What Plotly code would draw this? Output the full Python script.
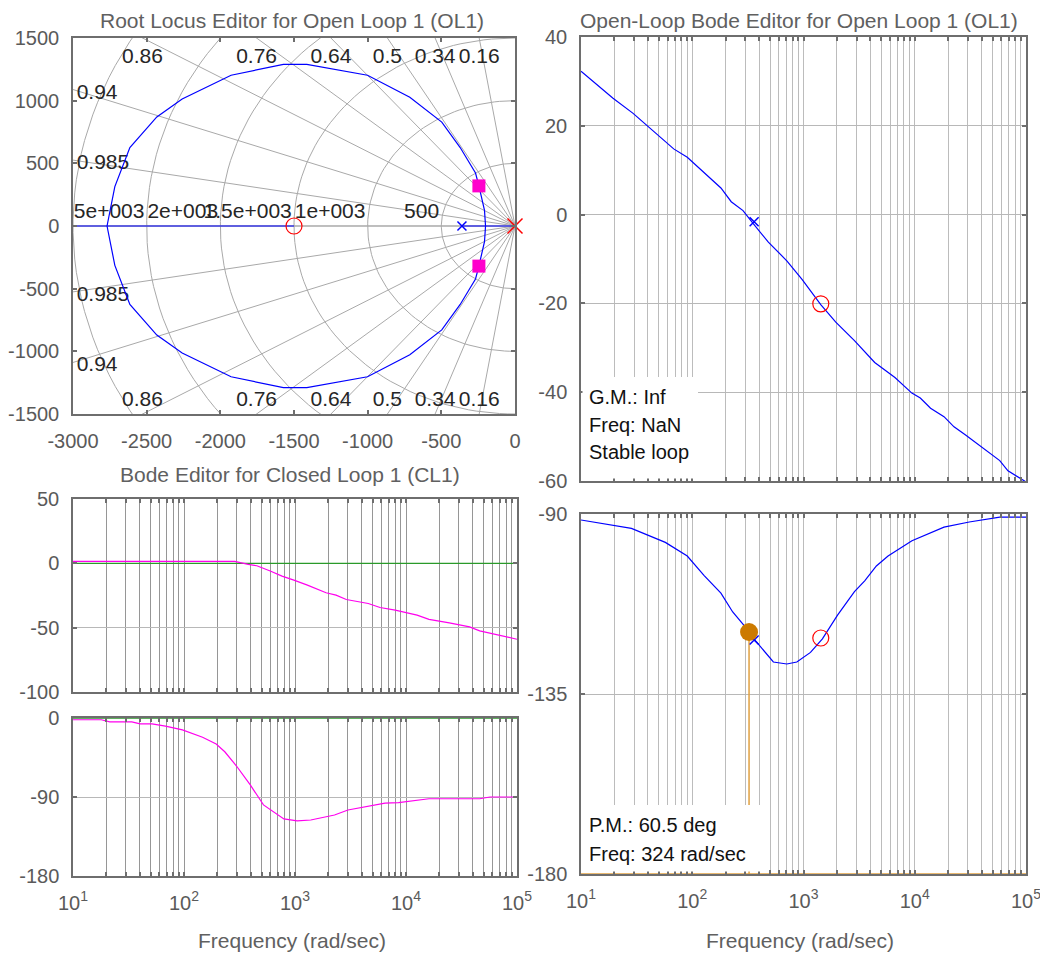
import numpy as np
import plotly.graph_objects as go

# the page body adds an 8 px margin, so the figure is 8 px smaller and all pixel
# positions below are given in window pixels and shifted by OFF
OFF = 8
W, H = 1048 - OFF, 954 - OFF
FONT = "Liberation Sans, Arial, sans-serif"

# ---------------- data ----------------
rl_upper_x = [-200, -207, -245, -268, -372, -497, -714, -1001, -1413, -1572, -1927, -2259, -2431, -2614, -2716, -2769]
rl_upper_y = [0, 124, 320, 423, 626, 829, 1027, 1203, 1290, 1290, 1203, 1014, 870, 626, 314, 0]
rl_lower_x = [-200, -207, -245, -268, -372, -497, -714, -1001, -1413, -1572, -1927, -2259, -2431, -2614, -2716, -2769]
rl_lower_y = [0, -124, -320, -423, -626, -829, -1027, -1203, -1290, -1290, -1203, -1014, -870, -626, -314, 0]
rl_real_seg1 = [-3000, -1500]
rl_real_seg2 = [-360, 0]
cl_poles_x = [-245, -245]
cl_poles_y = [320, -320]
comp_zero = [-1500]
comp_pole = [0]
plant_pole = [-360]
zeta_vals = [0.16, 0.34, 0.5, 0.64, 0.76, 0.86, 0.94, 0.985]
zeta_text = ["0.16", "0.34", "0.5", "0.64", "0.76", "0.86", "0.94", "0.985"]
wn_vals = [500, 1000, 1500, 2000, 2500, 3000]
wn_text = ["500", "1e+003", "1.5e+003", "2e+003", "2.5e+003", "3e+003"]

# Open-loop Bode magnitude
ol_mag_f = [10, 19.4, 29.4, 59.3, 68.1, 90.2, 181, 224, 286, 352, 483, 708, 970, 1429, 1950, 2871,
            4365, 6637, 9419, 11220, 13870, 18320, 22540, 28840, 45500, 58080, 68870, 100000]
ol_mag_db = [32.3, 26.2, 22.8, 16.3, 14.8, 12.9, 6.0, 2.9, 0.9, -2.0, -6.2, -10.4, -14.6, -20.3, -24.2, -28.4,
             -33.3, -36.7, -40.2, -41.3, -43.6, -45.5, -47.8, -49.7, -53.5, -55.4, -57.7, -60.2]
# Open-loop Bode phase
ol_ph_f = [10, 28.4, 57.3, 90.2, 128, 181, 231, 310, 378, 536, 708, 871, 1156, 1479, 2023, 2871,
           3548, 4519, 5754, 9441, 18320, 30900, 58080, 100000]
ol_ph_deg = [-91.5, -93.6, -97.1, -100.5, -105.4, -109.8, -114.5, -118.7, -122, -127, -127.5, -127, -124.6,
             -121.2, -115.3, -109.4, -106.7, -103, -100.5, -96.7, -93.3, -92, -90.8, -90.8]
pm_freq = 324
pm_deg = 60.5
plant_pole_mag = -1.6
plant_pole_ph = -121.5
comp_zero_freq = 1430
comp_zero_mag = -20.1
comp_zero_ph = -121.0

# Closed-loop Bode magnitude
cl_mag_f = [10, 287, 379, 453, 598, 764, 977, 1294, 1905, 2344, 2897, 3837, 4571, 5834, 7998, 12590,
            16110, 24550, 37410, 46130, 65460, 100000]
cl_mag_db = [1.5, 1.5, -0.8, -1.9, -6.0, -9.9, -13.1, -16.9, -22.9, -24.7, -28.1, -29.9, -31.2, -34.3, -36.4,
             -40.3, -43.5, -46.3, -49.4, -52.5, -55.4, -59.0]
# Closed-loop Bode phase
cl_ph_f = [10, 18, 21.4, 33.9, 40.3, 51.5, 68.1, 96.8, 147, 195, 233, 297, 394, 520, 794, 1047, 1387,
           2270, 3000, 3981, 6471, 8570, 12190, 16110, 46130, 57020, 100000]
cl_ph_deg = [-2, -2, -4.5, -4.5, -6.6, -6.6, -9.2, -13.5, -22, -29.7, -38.5, -54.7, -75.9, -99, -115, -117.3,
             -116.2, -110.5, -104.8, -102, -97, -96.3, -94, -92, -92, -90, -90]

# tick labels
rl_xticks = [-3000, -2500, -2000, -1500, -1000, -500, 0]
rl_yticks = [1500, 1000, 500, 0, -500, -1000, -1500]
ol_mag_ticks = [40, 20, 0, -20, -40, -60]
ol_ph_ticks = [-90, -135, -180]
cl_mag_ticks = [50, 0, -50, -100]
cl_ph_ticks = [0, -90, -180]
decades = [1, 2, 3, 4, 5]

# ---------------- helpers ----------------
def fx(p):
    return (p - OFF) / W

def fy(p):
    return 1 - (p - OFF) / H

freq_ticks = [k * 10 ** d for d in decades[:-1] for k in range(1, 10)] + [10 ** decades[-1]]
freq_text = [("10<sup>%d</sup>" % int(round(np.log10(v)))) if abs(np.log10(v) - round(np.log10(v))) < 1e-9 else "" for v in freq_ticks]

def num_txt(vals):
    return [str(v) for v in vals]

fig = go.Figure()

# ---- Root locus grid (sgrid) ----
ax, ay = [], []
for wn in wn_vals:
    th = np.linspace(np.pi / 2, 3 * np.pi / 2, 90)
    ax += list(wn * np.cos(th)) + [None]
    ay += list(wn * np.sin(th)) + [None]
fig.add_trace(go.Scatter(x=ax, y=ay, mode="lines", line=dict(color="#a9a9a9", width=1),
                         hoverinfo="skip", xaxis="x", yaxis="y"))
rx, ry = [], []
R = 6000
for z in zeta_vals + [1.0]:
    th = np.arccos(z)
    rx += [0, -R * np.cos(th), None, 0, -R * np.cos(th), None]
    ry += [0, R * np.sin(th), None, 0, -R * np.sin(th), None]
fig.add_trace(go.Scatter(x=rx, y=ry, mode="lines", line=dict(color="#a9a9a9", width=1),
                         hoverinfo="skip", xaxis="x", yaxis="y"))

LBL = dict(size=21, color="#262626", family=FONT)
zl_x, zl_y, zl_t, zl_pos = [], [], [], []
for z, t in zip(zeta_vals, zeta_text):
    th = np.arccos(z)
    yhit = 3000 * np.tan(th)
    if yhit > 1500:
        xh = -1500 / np.tan(th)
        zl_x += [xh, xh]
        zl_y += [1345, -1395]
        zl_pos += ["middle center", "middle center"]
    else:
        zl_x += [-2975, -2975]
        zl_y += [yhit - 30, -yhit - 30]
        zl_pos += ["middle right", "middle right"]
    zl_t += [t, t]
fig.add_trace(go.Scatter(x=zl_x, y=zl_y, mode="text", text=zl_t, textposition=zl_pos, textfont=LBL,
                         cliponaxis=False, hoverinfo="skip", xaxis="x", yaxis="y"))
fig.add_trace(go.Scatter(x=[-w - 15 for w in wn_vals], y=[105] * len(wn_vals), mode="text", text=wn_text,
                         textposition="middle left", textfont=LBL,
                         cliponaxis=True, hoverinfo="skip", xaxis="x", yaxis="y"))

# locus
blue = "#0000ff"
for xs, ys in [(rl_upper_x, rl_upper_y), (rl_lower_x, rl_lower_y), (rl_real_seg1, [0, 0]), (rl_real_seg2, [0, 0])]:
    fig.add_trace(go.Scatter(x=xs, y=ys, mode="lines", line=dict(color=blue, width=1.2),
                             hoverinfo="skip", xaxis="x", yaxis="y"))
fig.add_trace(go.Scatter(x=cl_poles_x, y=cl_poles_y, mode="markers",
                         marker=dict(symbol="square", size=13, color="#ff00cc"), xaxis="x", yaxis="y"))
fig.add_trace(go.Scatter(x=comp_zero, y=[0], mode="markers", cliponaxis=False,
                         marker=dict(symbol="circle-open", size=16, color="red", line=dict(width=1.2)),
                         xaxis="x", yaxis="y"))
fig.add_trace(go.Scatter(x=comp_pole, y=[0], mode="markers", cliponaxis=False,
                         marker=dict(symbol="x-thin-open", size=15, color="red", line=dict(width=1.5, color="red")),
                         xaxis="x", yaxis="y"))
fig.add_trace(go.Scatter(x=plant_pole, y=[0], mode="markers",
                         marker=dict(symbol="x-thin-open", size=9, color=blue, line=dict(width=1.5, color=blue)),
                         xaxis="x", yaxis="y"))

# ---- Open loop magnitude ----
fig.add_trace(go.Scatter(x=ol_mag_f, y=ol_mag_db, mode="lines", line=dict(color=blue, width=1.2),
                         xaxis="x2", yaxis="y2"))
fig.add_trace(go.Scatter(x=[plant_pole[0] * -1], y=[plant_pole_mag], mode="markers",
                         marker=dict(symbol="x-thin-open", size=9, color=blue, line=dict(width=1.5, color=blue)),
                         xaxis="x2", yaxis="y2"))
fig.add_trace(go.Scatter(x=[comp_zero_freq], y=[comp_zero_mag], mode="markers",
                         marker=dict(symbol="circle-open", size=16, color="red", line=dict(width=1.2)),
                         xaxis="x2", yaxis="y2"))

# ---- Open loop phase ----
orange = "#e0a040"
fig.add_trace(go.Scatter(x=[10, 100000], y=[-180, -180], mode="lines", line=dict(color=orange, width=1.5),
                         xaxis="x3", yaxis="y3"))
fig.add_trace(go.Scatter(x=[pm_freq, pm_freq], y=[-180 + pm_deg, -180], mode="lines",
                         line=dict(color=orange, width=1.5), xaxis="x3", yaxis="y3"))
fig.add_trace(go.Scatter(x=ol_ph_f, y=ol_ph_deg, mode="lines", line=dict(color=blue, width=1.2),
                         xaxis="x3", yaxis="y3"))
fig.add_trace(go.Scatter(x=[plant_pole[0] * -1], y=[plant_pole_ph], mode="markers",
                         marker=dict(symbol="x-thin-open", size=9, color=blue, line=dict(width=1.5, color=blue)),
                         xaxis="x3", yaxis="y3"))
fig.add_trace(go.Scatter(x=[comp_zero_freq], y=[comp_zero_ph], mode="markers",
                         marker=dict(symbol="circle-open", size=16, color="red", line=dict(width=1.2)),
                         xaxis="x3", yaxis="y3"))
fig.add_trace(go.Scatter(x=[pm_freq], y=[-180 + pm_deg], mode="markers",
                         marker=dict(symbol="circle", size=18, color="#cc7a00"), xaxis="x3", yaxis="y3"))

# ---- Closed loop ----
green = "#2a9a2a"
mag_c = "#ff00ee"
fig.add_trace(go.Scatter(x=[10, 100000], y=[0, 0], mode="lines", line=dict(color=green, width=1.2),
                         xaxis="x4", yaxis="y4"))
fig.add_trace(go.Scatter(x=cl_mag_f, y=cl_mag_db, mode="lines", line=dict(color=mag_c, width=1.2),
                         xaxis="x4", yaxis="y4"))
fig.add_trace(go.Scatter(x=[10, 100000], y=[0, 0], mode="lines", line=dict(color=green, width=1.5),
                         cliponaxis=False, xaxis="x5", yaxis="y5"))
fig.add_trace(go.Scatter(x=cl_ph_f, y=cl_ph_deg, mode="lines", line=dict(color=mag_c, width=1.2),
                         xaxis="x5", yaxis="y5"))

# ---------------- layout ----------------
common = dict(showline=True, linecolor="#6e6e6e", linewidth=1.5, mirror="allticks", ticks="inside",
              ticklen=4, tickwidth=1.5, tickcolor="#6e6e6e", zeroline=False, automargin=False,
              tickfont=dict(size=20, color="#5a5a5a", family=FONT), ticklabelstandoff=8)

def logx(domain, anchor, labels, gridcolor):
    d = dict(common)
    d.update(type="log", range=[1, 5], domain=domain, anchor=anchor, tickvals=freq_ticks,
             ticktext=freq_text if labels else [""] * len(freq_ticks), showticklabels=labels,
             showgrid=True, gridcolor=gridcolor, gridwidth=1)
    return d

def liny(domain, anchor, rng, ticks, grid=True, gridcolor="#b8b8b8"):
    d = dict(common)
    d.update(range=rng, domain=domain, anchor=anchor, tickvals=ticks, ticktext=num_txt(ticks),
             showgrid=grid, gridcolor=gridcolor, gridwidth=1)
    return d

rl_x = dict(common)
rl_x.update(range=[-3000, 0], domain=[fx(73), fx(515)], anchor="y", tickvals=rl_xticks,
            ticktext=num_txt(rl_xticks), showgrid=False)
rl_y = liny([fy(414), fy(38)], "x", [-1500, 1500], rl_yticks, grid=False)

layout = dict(
    width=W, height=H, margin=dict(l=0, r=0, t=0, b=0, pad=0, autoexpand=False), showlegend=False,
    paper_bgcolor="white", plot_bgcolor="white", font=dict(family=FONT),
    xaxis=rl_x, yaxis=rl_y,
    xaxis2=logx([fx(581), fx(1026)], "y2", False, "#bcbcbc"),
    yaxis2=liny([fy(481), fy(37)], "x2", [-60, 40], ol_mag_ticks),
    xaxis3=logx([fx(581), fx(1026)], "y3", True, "#bcbcbc"),
    yaxis3=liny([fy(874), fy(514)], "x3", [-180, -90], ol_ph_ticks),
    xaxis4=logx([fx(73), fx(517)], "y4", False, "#969696"),
    yaxis4=liny([fy(692), fy(499)], "x4", [-100, 50], cl_mag_ticks),
    xaxis5=logx([fx(73), fx(517)], "y5", True, "#969696"),
    yaxis5=liny([fy(876), fy(718)], "x5", [-180, 0], cl_ph_ticks),
)
fig.update_layout(**layout)

shapes = [
    dict(type="rect", xref="paper", yref="paper", x0=fx(582.5), x1=fx(698), y0=fy(478.5), y1=fy(377),
         fillcolor="white", line=dict(width=0), layer="above"),
    dict(type="rect", xref="paper", yref="paper", x0=fx(582.5), x1=fx(765), y0=fy(871.5), y1=fy(805),
         fillcolor="white", line=dict(width=0), layer="above"),
]
fig.update_layout(shapes=shapes)

ann = []
def text(x, y, s, size=20, color="#606060", xanchor="center", yanchor="middle"):
    ann.append(dict(x=fx(x), y=min(fy(y), 1.0), xref="paper", yref="paper", text=s, showarrow=False,
                    xanchor=xanchor, yanchor=yanchor, borderpad=0,
                    font=dict(size=size, color=color, family=FONT)))

text(292, 8, "Root Locus Editor for Open Loop 1 (OL1)", size=21, yanchor="top")
text(799, 8, "Open-Loop Bode Editor for Open Loop 1 (OL1)", size=21, yanchor="top")
text(290, 475, "Bode Editor for Closed Loop 1 (CL1)", size=21)
text(292, 940, "Frequency (rad/sec)", size=21)
text(800, 940, "Frequency (rad/sec)", size=21)
text(588, 397, "G.M.: Inf", color="#111111", xanchor="left")
text(588, 425, "Freq: NaN", color="#111111", xanchor="left")
text(588, 452, "Stable loop", color="#111111", xanchor="left")
text(588, 825, "P.M.: 60.5 deg", color="#111111", xanchor="left")
text(588, 854, "Freq: 324 rad/sec", color="#111111", xanchor="left")
fig.update_layout(annotations=ann)

fig.write_html("out.html")
